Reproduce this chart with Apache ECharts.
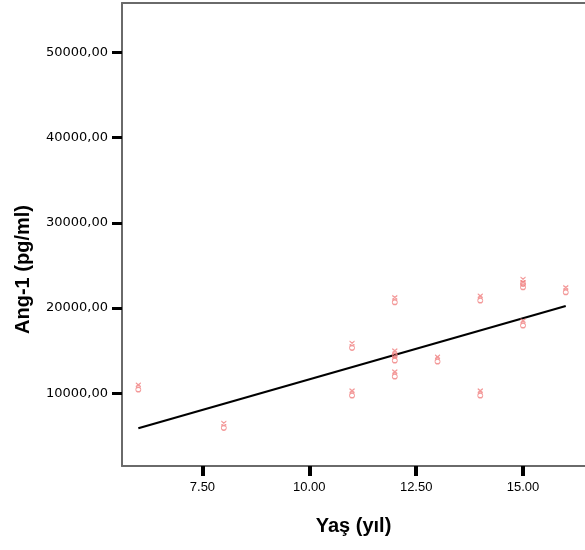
<!DOCTYPE html>
<html>
<head>
<meta charset="utf-8">
<script src="https://cdn.jsdelivr.net/npm/echarts@6/dist/echarts.min.js"></script>
<style>
html,body{margin:0;padding:0;background:#fff;}
#chart{width:585px;height:550px;}
</style>
</head>
<body>
<div id="chart"></div>
<script>
// Age (years) of each observation
const ageYears = [6, 8, 11, 11, 12, 12, 12, 12, 13, 14, 14, 15, 15, 15, 16];
// Ang-1 (pg/ml) of each observation
const ang1Values = [10700, 6200, 15590, 10000, 20950, 14700, 14110, 12230, 13990, 21150, 10000, 23100, 22710, 18220, 22120];
// Fitted regression line end points
const fitX = [6, 16];
const fitY = [5890, 20250];
// Tick labels
const xTicks = [7.5, 10, 12.5, 15];
const yTicks = [10000, 20000, 30000, 40000, 50000];

const scatterData = ageYears.map((x, i) => [x, ang1Values[i]]);
const lineData = fitX.map((x, i) => [x, fitY[i]]);

const frameColor = '#6a6a6a';
const chart = echarts.init(document.getElementById('chart'), null, {renderer: 'canvas'});
chart.setOption({
  animation: false,
  backgroundColor: '#ffffff',
  grid: {left: 122, top: 3, right: -5, bottom: 84},
  xAxis: [{
    type: 'value',
    min: 5.618, max: 16.45,
    name: 'Yaş (yıl)',
    nameLocation: 'middle',
    nameGap: 50,
    nameTextStyle: {fontFamily: 'Liberation Sans, Arial', fontWeight: 'bold', fontSize: 20, color: '#000'},
    splitLine: {show: false},
    axisLine: {show: true, lineStyle: {color: frameColor, width: 2}},
    axisTick: {show: true, customValues: xTicks, length: 10, lineStyle: {color: '#000', width: 4}},
    axisLabel: {
      customValues: xTicks, margin: 15,
      fontFamily: 'Liberation Sans, Arial', fontSize: 13, color: '#000',
      formatter: v => v.toFixed(2)
    }
  }, {
    type: 'value',
    position: 'top',
    min: 5.618, max: 16.45,
    splitLine: {show: false},
    axisLine: {show: true, lineStyle: {color: frameColor, width: 2}},
    axisTick: {show: false},
    axisLabel: {show: false}
  }],
  yAxis: {
    type: 'value',
    min: 1467, max: 55810,
    name: 'Ang-1 (pg/ml)',
    nameLocation: 'middle',
    nameGap: 89,
    nameRotate: 90,
    nameTextStyle: {fontFamily: 'Liberation Sans, Arial', fontWeight: 'bold', fontSize: 20, color: '#000', padding: [0, 70, 0, 0]},
    splitLine: {show: false},
    axisLine: {show: true, lineStyle: {color: frameColor, width: 2}},
    axisTick: {show: true, customValues: yTicks, length: 10, lineStyle: {color: '#000', width: 3}},
    axisLabel: {
      customValues: yTicks, margin: 14,
      fontFamily: 'DejaVu Sans', fontSize: 13, color: '#000',
      formatter: v => v.toFixed(2).replace('.', ',')
    }
  },
  series: [
    {
      type: 'line',
      data: lineData,
      showSymbol: false,
      lineStyle: {color: '#000', width: 2.2},
      z: 3
    },
    {
      type: 'scatter',
      data: scatterData,
      symbol: 'path://M0,0L6,5M6,0L0,5M0,8.5A3,3,0,1,0,6,8.5A3,3,0,1,0,0,8.5Z',
      symbolSize: [5, 9],
      itemStyle: {color: 'rgba(0,0,0,0)', borderColor: '#f07f7f', borderWidth: 1.1},
      z: 4
    }
  ]
});
</script>
</body>
</html>
